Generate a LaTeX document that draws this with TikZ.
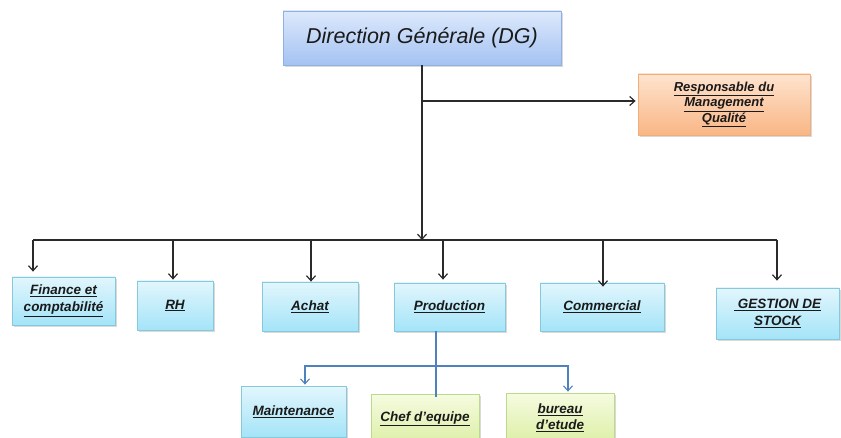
\documentclass[tikz,border=0pt]{standalone}
\usepackage{fontspec}
\setmainfont{Liberation Sans}
\usetikzlibrary{arrows.meta,shadows}
\definecolor{blueT}{HTML}{E2F6FD}
\definecolor{blueB}{HTML}{A4E4F8}
\definecolor{blueD}{HTML}{86C8DC}
\definecolor{dgT}{HTML}{DDE9FC}
\definecolor{dgB}{HTML}{A4C2F2}
\definecolor{dgD}{HTML}{90B0E2}
\definecolor{orT}{HTML}{FEE3CE}
\definecolor{orB}{HTML}{F9B685}
\definecolor{orD}{HTML}{F0AE7C}
\definecolor{grT}{HTML}{F5FBE0}
\definecolor{grB}{HTML}{DDEFA6}
\definecolor{grD}{HTML}{BCD98C}
\definecolor{txt}{HTML}{1A1A1A}
\definecolor{lnk}{HTML}{2A2A2A}
\definecolor{blk}{HTML}{4F81BD}
\newcommand\ulx[1]{\underline{#1}}
\begin{document}
\begin{tikzpicture}[x=1pt,y=-1pt,
  basebox/.style={draw, line width=0.8pt, inner sep=0pt, align=center, text=txt,
    drop shadow={opacity=0.3, shadow xshift=1.5pt, shadow yshift=-2pt}},
  unitbox/.style={basebox, draw=blueD, top color=blueT, bottom color=blueB,
    font=\bfseries\itshape\fontsize{13.5}{17}\selectfont},
  dgbox/.style={basebox, draw=dgD, top color=dgT, bottom color=dgB,
    font=\itshape\fontsize{21.5}{24}\selectfont},
  rmqbox/.style={basebox, draw=orD, top color=orT, bottom color=orB,
    font=\bfseries\itshape\fontsize{13}{15.5}\selectfont},
  grbox/.style={basebox, draw=grD, top color=grT, bottom color=grB,
    font=\bfseries\itshape\fontsize{13.5}{16}\selectfont},
  link/.style={draw=lnk, line width=1.2pt},
  arr/.style={link, -{Straight Barb[length=5pt,width=9pt]}},
  blink/.style={draw=blk, line width=1.1pt},
  barr/.style={blink, {Straight Barb[length=5pt,width=9pt]}-{Straight Barb[length=5pt,width=9pt]}}
]
\useasboundingbox (0,0) rectangle (841,438);

% boxes
\node[dgbox, minimum width=278pt, minimum height=54pt] (dg) at (422,38) {Direction Générale (DG)};
\node[rmqbox, minimum width=172pt, minimum height=61pt] (rmq) at (724,104.5)
  {\ulx{Responsable du}\\\ulx{Management}\\\ulx{Qualité}};

\node[unitbox, minimum width=103pt, minimum height=48pt] (fin) at (63.5,301) {\ulx{Finance et}\\\ulx{comptabilité}};
\node[unitbox, minimum width=76pt, minimum height=49pt] (rh) at (175,305.5) {\ulx{RH}};
\node[unitbox, minimum width=96pt, minimum height=49pt] (ach) at (310,306.5) {\ulx{Achat}};
\node[unitbox, minimum width=111pt, minimum height=48pt] (prod) at (449.5,307) {\ulx{Production}};
\node[unitbox, minimum width=124pt, minimum height=48pt] (comm) at (602,307) {\ulx{Commercial}};
\node[unitbox, minimum width=123pt, minimum height=51pt] (gest) at (777.5,313.5) {\ulx{~GESTION DE}\\\ulx{STOCK}};

\node[unitbox, minimum width=105pt, minimum height=51pt] (maint) at (293.5,411.5) {\ulx{Maintenance}};
\node[grbox, minimum width=108pt, minimum height=50pt] (chef) at (425,419) {\ulx{Chef d'equipe}};
\node[grbox, minimum width=108pt, minimum height=50pt] (bur) at (560,418) {\ulx{bureau}\\\ulx{d'etude}};

% coordinates for connectors
\coordinate (q) at (0,101);
\coordinate (bus) at (0,240);
\coordinate (d1) at (33,240);
\coordinate (d2) at (173,240);
\coordinate (d3) at (311,240);
\coordinate (d4) at (443,240);
\coordinate (d5) at (603,240);
\coordinate (d6) at (777,240);
\coordinate (p1) at (436,331);
\coordinate (h1) at (305,366);
\coordinate (h2) at (568,366);

% top connectors
\draw[arr] (dg.south) -- (dg.south |- bus);
\draw[arr, shorten >=2pt] (dg.south |- q) -- (rmq.west |- q);

% bus
\draw[link] (d1) -- (d6);
\draw[arr, shorten >=5pt] (d1) -- (d1 |- fin.north);
\draw[arr, shorten >=1pt] (d2) -- (d2 |- rh.north);
\draw[arr, shorten >=0pt] (d3) -- (d3 |- ach.north);
\draw[arr, shorten >=3pt] (d4) -- (d4 |- prod.north);
\draw[arr, shorten >=-4pt] (d5) -- (d5 |- comm.north);
\draw[arr, shorten >=7pt] (d6) -- (d6 |- gest.north);

% production sub-tree
\draw[blink] (p1) -- ([yshift=-3pt]p1 |- chef.north);
\draw[barr, shorten <=1pt, shorten >=1pt] (h1 |- maint.north) -- (h1) -- (h2) -- (h2 |- bur.north);
\end{tikzpicture}
\end{document}
